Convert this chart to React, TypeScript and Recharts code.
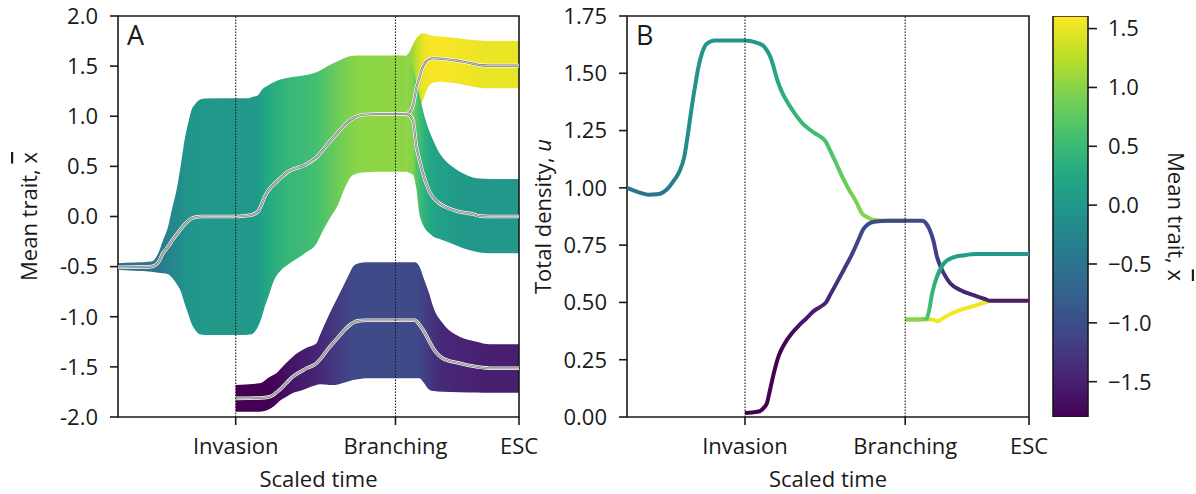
import React from 'react';
import { ComposedChart, Area, Line, Bar, XAxis, YAxis, ReferenceLine, ReferenceArea, Label } from 'recharts';

const FONT = '"Open Sans", "Noto Sans", sans-serif';
const INK = '#1a1a1a';

// scaled time: ESC = 1
const T_INVASION = 0.2935;
const T_BRANCHING = 0.692;
const TIME_TICKS = [T_INVASION, T_BRANCHING, 1];
const TIME_LABELS = ['Invasion', 'Branching', 'ESC'];

const TRAIT_TICKS = [-2, -1.5, -1, -0.5, 0, 0.5, 1, 1.5, 2];
const DENSITY_TICKS = [0, 0.25, 0.5, 0.75, 1, 1.25, 1.5, 1.75];
const CBAR_TICKS = [-1.5, -1, -0.5, 0, 0.5, 1, 1.5];
const CBAR_MIN = -1.8;
const CBAR_MAX = 1.607;

// A: resident lineage, up to branching
const RES_T = [0, 0.04, 0.083, 0.1, 0.112, 0.125, 0.135, 0.146, 0.158, 0.166, 0.175, 0.183, 0.192, 0.2, 0.208, 0.216, 0.2935, 0.324, 0.333, 0.349, 0.358, 0.366, 0.375, 0.383, 0.391, 0.399, 0.407, 0.424, 0.466, 0.495, 0.51, 0.528, 0.549, 0.565, 0.586, 0.611, 0.65, 0.692, 0.719];
const RES_HIGH = [-0.467, -0.46, -0.45, -0.37, -0.24, -0.1, 0.08, 0.264, 0.55, 0.763, 0.93, 1.06, 1.12, 1.155, 1.172, 1.178, 1.179, 1.18, 1.19, 1.21, 1.26, 1.29, 1.31, 1.33, 1.345, 1.36, 1.37, 1.385, 1.41, 1.44, 1.47, 1.51, 1.55, 1.58, 1.604, 1.605, 1.605, 1.605, 1.604];
const RES_LOW = [-0.534, -0.54, -0.55, -0.56, -0.565, -0.575, -0.61, -0.67, -0.76, -0.866, -0.97, -1.066, -1.13, -1.166, -1.178, -1.182, -1.182, -1.18, -1.175, -1.1, -1.01, -0.9, -0.8, -0.7, -0.62, -0.57, -0.534, -0.48, -0.367, -0.27, -0.15, -0.02, 0.12, 0.28, 0.414, 0.44, 0.447, 0.447, 0.447];
const RES_MEAN = [-0.507, -0.505, -0.5, -0.46, -0.367, -0.3, -0.24, -0.18, -0.118, -0.08, -0.045, -0.02, -0.007, -0.002, 0, 0, 0, 0.01, 0.015, 0.05, 0.12, 0.2, 0.26, 0.3, 0.33, 0.36, 0.39, 0.447, 0.514, 0.59, 0.66, 0.746, 0.84, 0.913, 0.98, 1.015, 1.023, 1.023, 1.023];

// A: the two branches after branching
const BRANCH_T = [0.719, 0.727, 0.736, 0.744, 0.752, 0.757, 0.765, 0.777, 0.786, 0.802, 0.819, 0.844, 0.861, 0.885, 0.902, 0.927, 1];
const UP_HIGH = [1.604, 1.644, 1.72, 1.777, 1.81, 1.827, 1.825, 1.81, 1.8, 1.795, 1.79, 1.78, 1.77, 1.76, 1.755, 1.75, 1.75];
const UP_LOW = [0.447, 0.52, 0.62, 0.82, 1.046, 1.12, 1.21, 1.31, 1.335, 1.345, 1.34, 1.33, 1.315, 1.295, 1.285, 1.28, 1.28];
const UP_MEAN = [1.023, 1.04, 1.11, 1.28, 1.39, 1.46, 1.53, 1.57, 1.578, 1.575, 1.568, 1.555, 1.544, 1.525, 1.51, 1.505, 1.505];
const DOWN_HIGH = [1.604, 1.56, 1.478, 1.34, 1.21, 1.12, 0.99, 0.846, 0.76, 0.63, 0.547, 0.47, 0.43, 0.39, 0.378, 0.374, 0.374];
const DOWN_LOW = [0.447, 0.435, 0.414, 0.28, 0.015, -0.05, -0.118, -0.17, -0.2, -0.225, -0.25, -0.29, -0.317, -0.345, -0.36, -0.367, -0.367];
const DOWN_MEAN = [1.023, 1.01, 0.95, 0.7, 0.56, 0.48, 0.37, 0.247, 0.19, 0.13, 0.09, 0.055, 0.04, 0.025, 0.005, 0, 0];

// A: invading lineage
const INV_T = [0.2935, 0.353, 0.378, 0.387, 0.395, 0.403, 0.42, 0.436, 0.461, 0.47, 0.495, 0.503, 0.528, 0.536, 0.561, 0.578, 0.586, 0.603, 0.619, 0.74, 0.752, 0.761, 0.777, 0.786, 0.81, 0.852, 0.894, 0.927, 1];
const INV_HIGH = [-1.681, -1.664, -1.6, -1.58, -1.564, -1.53, -1.46, -1.398, -1.33, -1.31, -1.265, -1.19, -0.966, -0.9, -0.7, -0.56, -0.5, -0.465, -0.457, -0.457, -0.5, -0.6, -0.78, -0.9, -1.066, -1.2, -1.249, -1.275, -1.275];
const INV_LOW = [-1.947, -1.947, -1.92, -1.897, -1.87, -1.84, -1.797, -1.76, -1.73, -1.715, -1.68, -1.674, -1.68, -1.681, -1.66, -1.64, -1.631, -1.62, -1.614, -1.614, -1.614, -1.65, -1.73, -1.74, -1.747, -1.752, -1.755, -1.757, -1.757];
const INV_MEAN = [-1.814, -1.81, -1.797, -1.78, -1.755, -1.73, -1.66, -1.598, -1.535, -1.514, -1.464, -1.43, -1.3, -1.265, -1.15, -1.082, -1.06, -1.039, -1.035, -1.035, -1.08, -1.132, -1.25, -1.315, -1.415, -1.464, -1.498, -1.514, -1.514];

// B: total densities
const RES_DENS_T = [0, 0.036, 0.053, 0.075, 0.089, 0.103, 0.116, 0.13, 0.143, 0.152, 0.16, 0.17, 0.178, 0.187, 0.196, 0.21, 0.218, 0.294, 0.32, 0.339, 0.348, 0.357, 0.366, 0.374, 0.385, 0.397, 0.415, 0.437, 0.466, 0.495, 0.506, 0.517, 0.535, 0.553, 0.57, 0.584, 0.6, 0.615, 0.65, 0.692];
const RES_DENS = [1.0, 0.977, 0.97, 0.972, 0.98, 1.0, 1.03, 1.07, 1.14, 1.24, 1.34, 1.45, 1.53, 1.59, 1.625, 1.64, 1.643, 1.643, 1.635, 1.62, 1.6, 1.57, 1.52, 1.47, 1.42, 1.38, 1.33, 1.28, 1.24, 1.2, 1.16, 1.12, 1.05, 0.99, 0.94, 0.89, 0.87, 0.86, 0.856, 0.856];
const INV_DENS_T = [0.2935, 0.31, 0.33, 0.34, 0.348, 0.356, 0.365, 0.378, 0.392, 0.41, 0.428, 0.446, 0.463, 0.48, 0.495, 0.506, 0.517, 0.54, 0.561, 0.575, 0.588, 0.6, 0.615, 0.65, 0.735, 0.744, 0.753, 0.762, 0.771, 0.779, 0.788, 0.804, 0.829, 0.862, 0.89, 0.904, 1];
const INV_DENS = [0.017, 0.02, 0.025, 0.04, 0.06, 0.12, 0.19, 0.27, 0.32, 0.365, 0.4, 0.43, 0.46, 0.48, 0.5, 0.535, 0.57, 0.645, 0.715, 0.77, 0.82, 0.842, 0.852, 0.856, 0.856, 0.845, 0.817, 0.77, 0.7, 0.66, 0.627, 0.584, 0.554, 0.532, 0.515, 0.507, 0.507];
const DOWN_DENS_T = [0.692, 0.72, 0.744, 0.752, 0.759, 0.771, 0.788, 0.812, 0.84, 0.87, 1];
const DOWN_DENS = [0.426, 0.426, 0.428, 0.47, 0.54, 0.612, 0.67, 0.697, 0.706, 0.711, 0.711];
const UP_DENS_T = [0.692, 0.72, 0.746, 0.76, 0.773, 0.785, 0.8, 0.829, 0.862, 0.896, 0.908, 1];
const UP_DENS = [0.426, 0.426, 0.427, 0.425, 0.418, 0.43, 0.445, 0.467, 0.484, 0.503, 0.507, 0.507];

const VIRIDIS = ['#440154', '#482475', '#414487', '#355f8d', '#2a788e', '#21918c', '#22a884', '#44bf70', '#7ad151', '#bddf26', '#fde725'];

const hexToRgb = (h: string) => [1, 3, 5].map(i => parseInt(h.slice(i, i + 2), 16));

const viridis = (v: number) => {
  const s = Math.max(0, Math.min(1, (v - CBAR_MIN) / (CBAR_MAX - CBAR_MIN)));
  const p = s * 10;
  const i = Math.min(9, Math.floor(p));
  const f = p - i;
  const a = hexToRgb(VIRIDIS[i]);
  const b = hexToRgb(VIRIDIS[i + 1]);
  const c = a.map((x, k) => Math.round(x + (b[k] - x) * f));
  return `rgb(${c[0]},${c[1]},${c[2]})`;
};

// horizontal gradient coloured by the mean trait along the series' time span
const TraitGradient = ({ id, ts, means, t0, t1 }: { id: string; ts: number[]; means: number[]; t0: number; t1: number }) => (
  <linearGradient id={id} x1="0" y1="0" x2="1" y2="0">
    {ts.map((t, i) => (
      <stop key={i} offset={Math.max(0, Math.min(1, (t - t0) / (t1 - t0)))} stopColor={viridis(means[i])} />
    ))}
  </linearGradient>
);

const bands = [
  { id: 'res', t: RES_T, low: RES_LOW, mean: RES_MEAN, high: RES_HIGH },
  { id: 'up', t: BRANCH_T, low: UP_LOW, mean: UP_MEAN, high: UP_HIGH },
  { id: 'down', t: BRANCH_T, low: DOWN_LOW, mean: DOWN_MEAN, high: DOWN_HIGH },
  { id: 'inv', t: INV_T, low: INV_LOW, mean: INV_MEAN, high: INV_HIGH },
];

const bandData = (b: typeof bands[number]) =>
  b.t.map((t, i) => ({ t, range: [b.low[i], b.high[i]], mean: b.mean[i] }));

// density curves; colour taken from the matching lineage in panel A
const densities = [
  { id: 'dres', t: RES_DENS_T, u: RES_DENS, colT: RES_T, colM: RES_MEAN },
  { id: 'dup', t: UP_DENS_T, u: UP_DENS, colT: BRANCH_T, colM: UP_MEAN },
  { id: 'dinv', t: INV_DENS_T, u: INV_DENS, colT: INV_T, colM: INV_MEAN },
  { id: 'ddown', t: DOWN_DENS_T, u: DOWN_DENS, colT: BRANCH_T, colM: DOWN_MEAN },
];

const textStyle = { fill: INK, fontSize: 22, fontFamily: FONT };
const tickLine = { stroke: INK, strokeWidth: 1.6 };
const timeFormat = (v: number) => TIME_LABELS[TIME_TICKS.indexOf(v)] ?? '';

const xLabel = (props: any) => {
  const vb = props.viewBox;
  return (
    <text x={vb.x + vb.width / 2} y={vb.y + 70} textAnchor="middle" {...textStyle}>
      Scaled time
    </text>
  );
};

const panelLetter = (letter: string) => (props: any) => {
  const vb = props.viewBox;
  return (
    <text x={vb.x + 9} y={vb.y + 29} fill={INK} fontSize={27} fontFamily={FONT}>
      {letter}
    </text>
  );
};

const rotatedLabel = (dx: number, angle: number, body: React.ReactNode) => (props: any) => {
  const vb = props.viewBox;
  const x = vb.x + dx;
  const y = vb.y + vb.height / 2;
  return (
    <text x={x} y={y} transform={`rotate(${angle} ${x} ${y})`} textAnchor="middle" {...textStyle}>
      {body}
    </text>
  );
};

const meanTraitText = (
  <>
    Mean trait, <tspan style={{ textDecoration: 'overline' }}>x</tspan>
  </>
);

const TraitPanel = () => (
  <ComposedChart width={540} height={494} margin={{ top: 16, right: 21, bottom: 0, left: 0 }}>
    <defs>
      {bands.map(b => (
        <TraitGradient key={b.id} id={`band-${b.id}`} ts={b.t} means={b.mean} t0={b.t[0]} t1={b.t[b.t.length - 1]} />
      ))}
    </defs>
    <XAxis dataKey="t" type="number" domain={[0, 1]} ticks={TIME_TICKS} interval={0} height={77}
      tickSize={8} tickMargin={13} axisLine={false} tickLine={tickLine} tick={textStyle} tickFormatter={timeFormat}>
      <Label content={xLabel} />
    </XAxis>
    <YAxis type="number" domain={[-2, 2]} ticks={TRAIT_TICKS} interval={0} width={118} allowDataOverflow
      tickSize={8} tickMargin={12} axisLine={false} tickLine={tickLine} tick={textStyle}
      tickFormatter={(v: number) => v.toFixed(1)}>
      <Label content={rotatedLabel(37, -90, meanTraitText)} />
    </YAxis>
    {bands.map(b => (
      <Area key={b.id} data={bandData(b)} dataKey="range" type="monotoneX" stroke="none"
        fill={`url(#band-${b.id})`} fillOpacity={1} isAnimationActive={false} />
    ))}
    {bands.map(b => [
      <Line key={`${b.id}-w`} data={bandData(b)} dataKey="mean" type="monotoneX" stroke="#ffffff" strokeWidth={3.6} dot={false} isAnimationActive={false} />,
      <Line key={`${b.id}-g`} data={bandData(b)} dataKey="mean" type="monotoneX" stroke="#6f6f6f" strokeWidth={2.1} dot={false} isAnimationActive={false} />,
      <Line key={`${b.id}-c`} data={bandData(b)} dataKey="mean" type="monotoneX" stroke="#e6e6e6" strokeWidth={0.8} dot={false} isAnimationActive={false} />,
    ])}
    <ReferenceLine x={T_INVASION} stroke={INK} strokeWidth={1.1} strokeDasharray="1.5 1.5" />
    <ReferenceLine x={T_BRANCHING} stroke={INK} strokeWidth={1.1} strokeDasharray="1.5 1.5" />
    <ReferenceArea x1={0} x2={1} y1={-2} y2={2} fill="none" stroke={INK} strokeWidth={1.6}>
      <Label content={panelLetter('A')} />
    </ReferenceArea>
  </ComposedChart>
);

const DensityPanel = () => (
  <ComposedChart width={560} height={494} margin={{ top: 16, right: 51, bottom: 0, left: 0 }}>
    <defs>
      {densities.map(d => (
        <TraitGradient key={d.id} id={`line-${d.id}`} ts={d.colT} means={d.colM} t0={d.t[0]} t1={d.t[d.t.length - 1]} />
      ))}
    </defs>
    <XAxis dataKey="t" type="number" domain={[0, 1]} ticks={TIME_TICKS} interval={0} height={77}
      tickSize={8} tickMargin={13} axisLine={false} tickLine={tickLine} tick={textStyle} tickFormatter={timeFormat}>
      <Label content={xLabel} />
    </XAxis>
    <YAxis type="number" domain={[0, 1.75]} ticks={DENSITY_TICKS} interval={0} width={107} allowDataOverflow
      tickSize={8} tickMargin={12} axisLine={false} tickLine={tickLine} tick={textStyle}
      tickFormatter={(v: number) => v.toFixed(2)}>
      <Label content={rotatedLabel(31, -90, <>Total density, <tspan fontStyle="italic">u</tspan></>)} />
    </YAxis>
    {densities.map(d => (
      <Line key={d.id} data={d.t.map((t, i) => ({ t, u: d.u[i] }))} dataKey="u" type="monotoneX"
        stroke={`url(#line-${d.id})`} strokeWidth={4} dot={false} isAnimationActive={false} />
    ))}
    <ReferenceLine x={T_INVASION} stroke={INK} strokeWidth={1.1} strokeDasharray="1.5 1.5" />
    <ReferenceLine x={T_BRANCHING} stroke={INK} strokeWidth={1.1} strokeDasharray="1.5 1.5" />
    <ReferenceArea x1={0} x2={1} y1={0} y2={1.75} fill="none" stroke={INK} strokeWidth={1.6}>
      <Label content={panelLetter('B')} />
    </ReferenceArea>
  </ComposedChart>
);

const CBAR_DATA = [{ name: 'trait', span: [CBAR_MIN, CBAR_MAX] }];

const ColorBar = () => (
  <ComposedChart width={156} height={494} data={CBAR_DATA} margin={{ top: 16, right: 0, bottom: 77, left: 13 }} barCategoryGap={0}>
    <defs>
      <linearGradient id="cbar" x1="0" y1="1" x2="0" y2="0">
        {VIRIDIS.map((c, i) => (
          <stop key={i} offset={i / (VIRIDIS.length - 1)} stopColor={c} />
        ))}
      </linearGradient>
    </defs>
    <XAxis dataKey="name" type="category" hide />
    <YAxis orientation="right" type="number" domain={[CBAR_MIN, CBAR_MAX]} ticks={CBAR_TICKS} interval={0} width={108}
      allowDataOverflow tickSize={9} tickMargin={11} axisLine={false} tickLine={tickLine} tick={textStyle}
      tickFormatter={(v: number) => (v < 0 ? '\u2212' : '') + Math.abs(v).toFixed(1)}>
      <Label content={rotatedLabel(80, 90, meanTraitText)} />
    </YAxis>
    <Bar dataKey="span" fill="url(#cbar)" stroke={INK} strokeWidth={1.6} isAnimationActive={false} />
  </ComposedChart>
);

export default function App() {
  return (
    <div style={{ position: 'absolute', left: 0, top: 0, width: 1196, height: 494, background: '#fff' }}>
      <div style={{ position: 'absolute', left: 0, top: 0 }}>
        <TraitPanel />
      </div>
      <div style={{ position: 'absolute', left: 520, top: 0 }}>
        <DensityPanel />
      </div>
      <div style={{ position: 'absolute', left: 1040, top: 0 }}>
        <ColorBar />
      </div>
    </div>
  );
}
